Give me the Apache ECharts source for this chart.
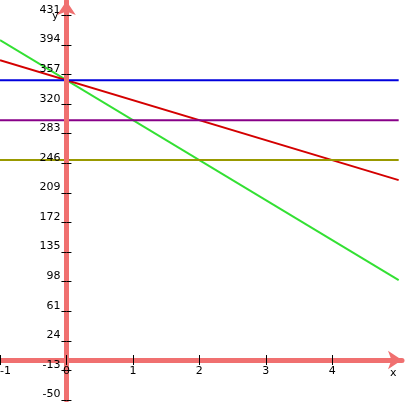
<!DOCTYPE html>
<html>
<head>
<meta charset="utf-8">
<script src="https://cdn.jsdelivr.net/npm/echarts@6/dist/echarts.min.js"></script>
<style>
  html, body { margin: 0; padding: 0; background: #fff; }
  #chart { width: 408px; height: 402px; }
</style>
</head>
<body>
<div id="chart"></div>
<script>
// values
const xTicks = [-1, 0, 1, 2, 3, 4];
const yTicks = [-50, -13, 24, 61, 98, 135, 172, 209, 246, 283, 320, 357, 394, 431];

const blueLine = [[-1, 350], [5, 350]];
const purpleLine = [[-1, 300], [5, 300]];
const oliveLine = [[-1, 250], [5, 250]];
const redLine = [[-1, 375], [5, 225]];
const greenLine = [[-1, 400], [5, 100]];

const AXIS_COLOR = '#f07070';
const FONT = 'DejaVu Sans';

// grid box and ranges
const W = 408, H = 402;
const G = { left: 0, right: 6, top: 1, bottom: 2 };
const X_MIN = -1, X_MAX = 5.05, Y_MIN = -50, Y_MAX = 449;

// where the zero lines fall, so the axes can be shifted onto them
const gw = W - G.left - G.right, gh = H - G.top - G.bottom;
const zeroX = G.left + (0 - X_MIN) / (X_MAX - X_MIN) * gw;
const zeroY = G.top + (Y_MAX - 0) / (Y_MAX - Y_MIN) * gh;

function lineSeries(data, color) {
  return {
    type: 'line',
    data: data,
    showSymbol: false,
    silent: true,
    z: 1,
    lineStyle: { color: color, width: 2 },
    animation: false
  };
}

const chart = echarts.init(document.getElementById('chart'));

const tick = { length: 5, lineStyle: { color: '#000', width: 1 } };
const label = { fontFamily: FONT, fontSize: 11, color: '#000' };

chart.setOption({
  animation: false,
  grid: Object.assign({ outerBoundsMode: 'none', containLabel: false }, G),
  xAxis: [
    {
      type: 'value', min: X_MIN, max: X_MAX, position: 'bottom',
      offset: -(G.top + gh - zeroY),
      z: 5,
      splitLine: { show: false },
      name: 'x',
      nameLocation: 'end',
      nameGap: -12,
      nameMoveOverlap: false,
      nameTextStyle: Object.assign({ verticalAlign: 'top', padding: [8, 0, 0, 0] }, label),
      axisLine: {
        onZero: false,
        symbol: ['none', 'arrow'],
        symbolSize: [14, 14],
        lineStyle: { color: AXIS_COLOR, width: 5 }
      },
      axisTick: Object.assign({ customValues: xTicks }, tick),
      axisLabel: Object.assign({ customValues: xTicks, margin: 6, alignMinLabel: 'left' }, label)
    },
    {
      type: 'value', min: X_MIN, max: X_MAX, position: 'top',
      offset: -(zeroY - G.top),
      z: 6,
      splitLine: { show: false },
      axisLine: { show: false, onZero: false },
      axisTick: Object.assign({ customValues: xTicks }, tick),
      axisLabel: { show: false }
    }
  ],
  yAxis: [
    {
      type: 'value', min: Y_MIN, max: Y_MAX, position: 'left',
      offset: -(zeroX - G.left),
      z: 5,
      splitLine: { show: false },
      name: 'y',
      nameLocation: 'end',
      nameGap: -10,
      nameMoveOverlap: false,
      nameTextStyle: Object.assign({ align: 'right', verticalAlign: 'top', padding: [0, 8, 0, 0] }, label),
      axisLine: {
        onZero: false,
        symbol: ['none', 'arrow'],
        symbolSize: [14, 14],
        lineStyle: { color: AXIS_COLOR, width: 5 }
      },
      axisTick: Object.assign({ customValues: yTicks }, tick),
      axisLabel: Object.assign({ customValues: yTicks, margin: 6, verticalAlign: 'bottom' }, label)
    },
    {
      type: 'value', min: Y_MIN, max: Y_MAX, position: 'right',
      offset: -(G.left + gw - zeroX),
      z: 6,
      splitLine: { show: false },
      axisLine: { show: false, onZero: false },
      axisTick: Object.assign({ customValues: yTicks }, tick),
      axisLabel: { show: false }
    }
  ],
  series: [
    lineSeries(greenLine, '#33e033'),
    lineSeries(redLine, '#d40000'),
    lineSeries(blueLine, '#0000dd'),
    lineSeries(purpleLine, '#880088'),
    lineSeries(oliveLine, '#999900')
  ]
});
</script>
</body>
</html>
